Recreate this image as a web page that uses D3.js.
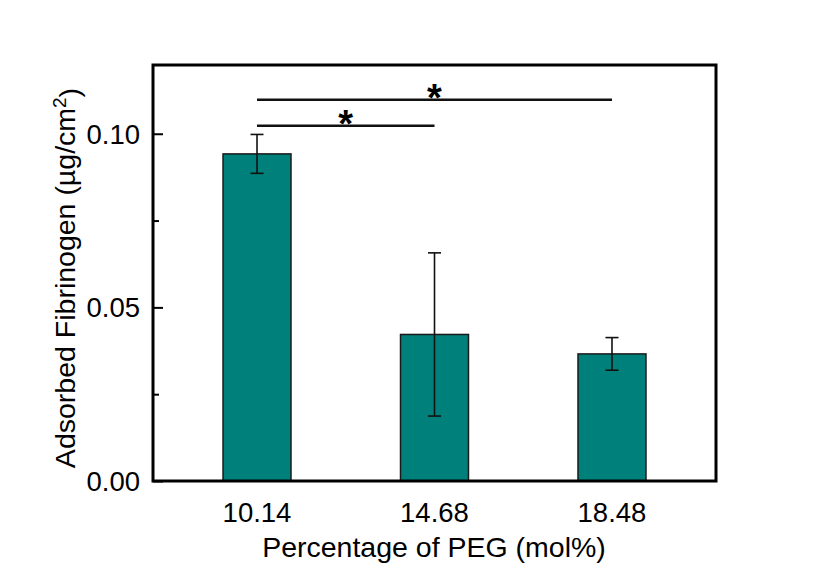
<!DOCTYPE html>
<html>
<head>
<meta charset="utf-8">
<script src="https://cdn.jsdelivr.net/npm/d3@7"></script>
<style>
  body { margin: 0; background: #fff; }
  svg { font-family: "Liberation Sans", Arial, sans-serif; }
</style>
</head>
<body>
<svg id="chart" width="816" height="570"></svg>
<script>
// Data
const categories = ['10.14', '14.68', '18.48'];
const means = [0.0942, 0.0422, 0.0366];
const errors = [0.0056, 0.0235, 0.0047];
const yTicks = [0, 0.05, 0.10];
const yMinorTicks = [0.025, 0.075];
// significance brackets: [from index, to index, level]
const sigPairs = [[0, 1, 0.1023], [0, 2, 0.1098]];

const width = 816, height = 570;
const margin = { top: 65, right: 100, bottom: 89, left: 153 };

const svg = d3.select('#chart');

const x = d3.scaleLinear()
  .domain([-0.586, 2.586])
  .range([margin.left, width - margin.right]);

const y = d3.scaleLinear()
  .domain([0, 0.1198])
  .range([height - margin.bottom, margin.top]);

const barW = x(0.383) - x(0);
const teal = '#00807a';

// Bars
svg.selectAll('.bar')
  .data(means)
  .enter().append('rect')
  .attr('class', 'bar')
  .attr('x', (d, i) => x(i) - barW / 2)
  .attr('y', d => y(d))
  .attr('width', barW)
  .attr('height', d => y(0) - y(d))
  .attr('fill', teal)
  .attr('stroke', '#1a1a1a')
  .attr('stroke-width', 1.5);

// Error bars
const capW = 13;
const eb = svg.selectAll('.err')
  .data(means)
  .enter().append('g')
  .attr('class', 'err')
  .attr('stroke', '#111')
  .attr('stroke-width', 1.6);
eb.append('line')
  .attr('x1', (d, i) => x(i)).attr('x2', (d, i) => x(i))
  .attr('y1', (d, i) => y(d + errors[i])).attr('y2', (d, i) => y(d - errors[i]));
eb.append('line')
  .attr('x1', (d, i) => x(i) - capW / 2).attr('x2', (d, i) => x(i) + capW / 2)
  .attr('y1', (d, i) => y(d + errors[i])).attr('y2', (d, i) => y(d + errors[i]));
eb.append('line')
  .attr('x1', (d, i) => x(i) - capW / 2).attr('x2', (d, i) => x(i) + capW / 2)
  .attr('y1', (d, i) => y(d - errors[i])).attr('y2', (d, i) => y(d - errors[i]));

// Significance lines
sigPairs.forEach(([a, b, lvl]) => {
  svg.append('line')
    .attr('x1', x(a)).attr('x2', x(b))
    .attr('y1', y(lvl)).attr('y2', y(lvl))
    .attr('stroke', '#111')
    .attr('stroke-width', 2.5);
  svg.append('text')
    .attr('x', (x(a) + x(b)) / 2)
    .attr('y', y(lvl) + 11)
    .attr('text-anchor', 'middle')
    .style('font-size', '38px')
    .style('font-weight', 'bold')
    .style('fill', '#000')
    .text('*');
});

// Y axis with inward ticks
const yAxis = svg.append('g')
  .attr('transform', `translate(${margin.left},0)`)
  .call(d3.axisRight(y).tickValues(yTicks).tickSize(10).tickFormat(''));
yAxis.select('.domain').remove();
yAxis.selectAll('line').attr('stroke', '#000').attr('stroke-width', 2);

const yMinor = svg.append('g')
  .attr('transform', `translate(${margin.left},0)`)
  .call(d3.axisRight(y).tickValues(yMinorTicks).tickSize(6).tickFormat(''));
yMinor.select('.domain').remove();
yMinor.selectAll('line').attr('stroke', '#000').attr('stroke-width', 2);

svg.selectAll('.ylab')
  .data(yTicks)
  .enter().append('text')
  .attr('class', 'ylab')
  .attr('x', margin.left - 13)
  .attr('y', d => y(d))
  .attr('dy', '0.36em')
  .attr('text-anchor', 'end')
  .style('font-size', '27.5px')
  .style('fill', '#000')
  .text(d3.format('.2f'));

// X tick labels
svg.selectAll('.xlab')
  .data(categories)
  .enter().append('text')
  .attr('class', 'xlab')
  .attr('x', (d, i) => x(i))
  .attr('y', y(0) + 41)
  .attr('text-anchor', 'middle')
  .style('font-size', '27.5px')
  .style('fill', '#000')
  .text(d => d);

// Frame
svg.append('rect')
  .attr('x', margin.left)
  .attr('y', y(y.domain()[1]))
  .attr('width', width - margin.right - margin.left)
  .attr('height', y(0) - y(y.domain()[1]))
  .attr('fill', 'none')
  .attr('stroke', '#000')
  .attr('stroke-width', 3);

// Axis titles
svg.append('text')
  .attr('x', 434)
  .attr('y', 557)
  .attr('text-anchor', 'middle')
  .style('font-size', '28.5px')
  .style('fill', '#000')
  .text('Percentage of PEG (mol%)');

const yt = svg.append('text')
  .attr('transform', 'translate(75, 278) rotate(-90)')
  .attr('text-anchor', 'middle')
  .style('font-size', '28.5px')
  .style('fill', '#000');
yt.append('tspan').text('Adsorbed Fibrinogen (µg/cm');
yt.append('tspan').attr('dy', '-0.45em').style('font-size', '19px').text('2');
yt.append('tspan').attr('dy', '0.45em').text(')');
</script>
</body>
</html>
